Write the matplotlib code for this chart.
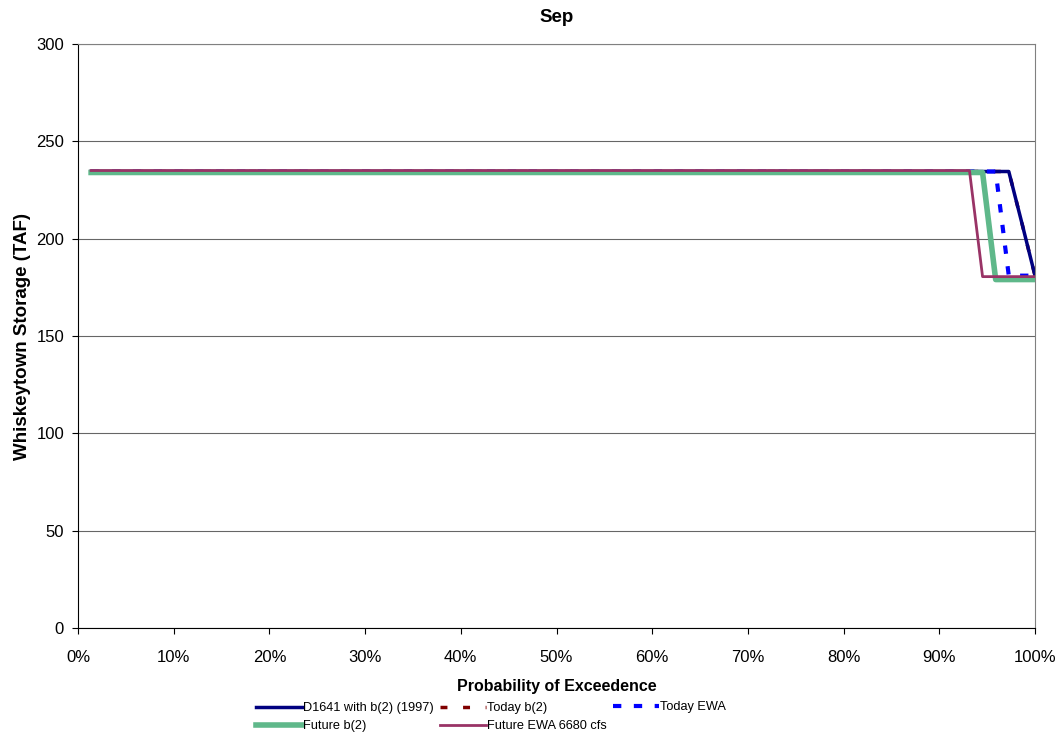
import numpy as np
import matplotlib
matplotlib.use("Agg")
import matplotlib.pyplot as plt
from matplotlib.ticker import PercentFormatter

plt.rcParams['font.family'] = ['Liberation Sans', 'DejaVu Sans']

# 73 years sorted, probability k/n
n_years = 73
prob = np.arange(1, n_years + 1) / n_years

# storage values (TAF)
d1641 = [234.5] * 71 + [208, 181]
today_b2 = [234.5] * 71 + [208, 181]
today_ewa = [234.5] * 70 + [181, 181, 181]
future_b2 = [234] * 69 + [179, 179, 179, 179]
future_ewa = [235] * 68 + [180.5] * 5

fig = plt.figure(figsize=(10.6, 7.36), dpi=100)
ax = fig.add_axes([78 / 1060, 1 - 628 / 736, (1035 - 78) / 1060, (628 - 44) / 736])

h2, = ax.plot(prob, today_b2, color="#800000", lw=2.5, ls=(0, (2, 4.5)), label="Today b(2)", zorder=1)
h1, = ax.plot(prob, d1641, color="#000080", lw=2.5, label="D1641 with b(2) (1997)", zorder=2)
h3, = ax.plot(prob, today_ewa, color="#0000ff", lw=3, ls=(0, (2, 3)), label="Today EWA", zorder=3)
h4, = ax.plot(prob, future_b2, color="#5fb88a", lw=4, label="Future b(2)", zorder=5)
h5, = ax.plot(prob, future_ewa, color="#993366", lw=2, label="Future EWA 6680 cfs", zorder=6)

ax.set_xlim(0, 1)
ax.set_ylim(0, 300)
ax.set_xticks(np.arange(0, 1.01, 0.1))
ax.xaxis.set_major_formatter(PercentFormatter(1.0, decimals=0))
ax.set_yticks(np.arange(0, 301, 50))
ax.grid(axis="y", color="#000000", lw=0.8, alpha=0.6)
ax.tick_params(axis="x", labelsize=12, direction="out", length=4, pad=12)
ax.tick_params(axis="y", labelsize=12, direction="out", length=4, pad=6)
for s in ["top", "right"]:
    ax.spines[s].set_color("#808080")
ax.spines["left"].set_color("black")
ax.spines["bottom"].set_color("black")

ax.set_title("Sep", fontsize=13.5, fontweight="bold", pad=16)
ax.set_xlabel("Probability of Exceedence", fontsize=11.5, fontweight="bold", labelpad=10)
ax.set_ylabel("Whiskeytown Storage (TAF)", fontsize=13.5, fontweight="bold", labelpad=4)

# legend laid out in three columns like the original
leg_kw = dict(loc="lower left", frameon=False, fontsize=9.2, handlelength=3.6,
              handletextpad=0.1, labelspacing=0.45, borderaxespad=0.0, borderpad=0.3)
for col_x, hs in [(252, [h1, h4]), (436, [h2, h5]), (609, [h3])]:
    bottom = 0.0 if len(hs) == 2 else 19 / 736
    fig.legend(hs, [h.get_label() for h in hs], bbox_to_anchor=(col_x / 1060, bottom), **leg_kw)

fig.savefig("out.png", dpi=100)
